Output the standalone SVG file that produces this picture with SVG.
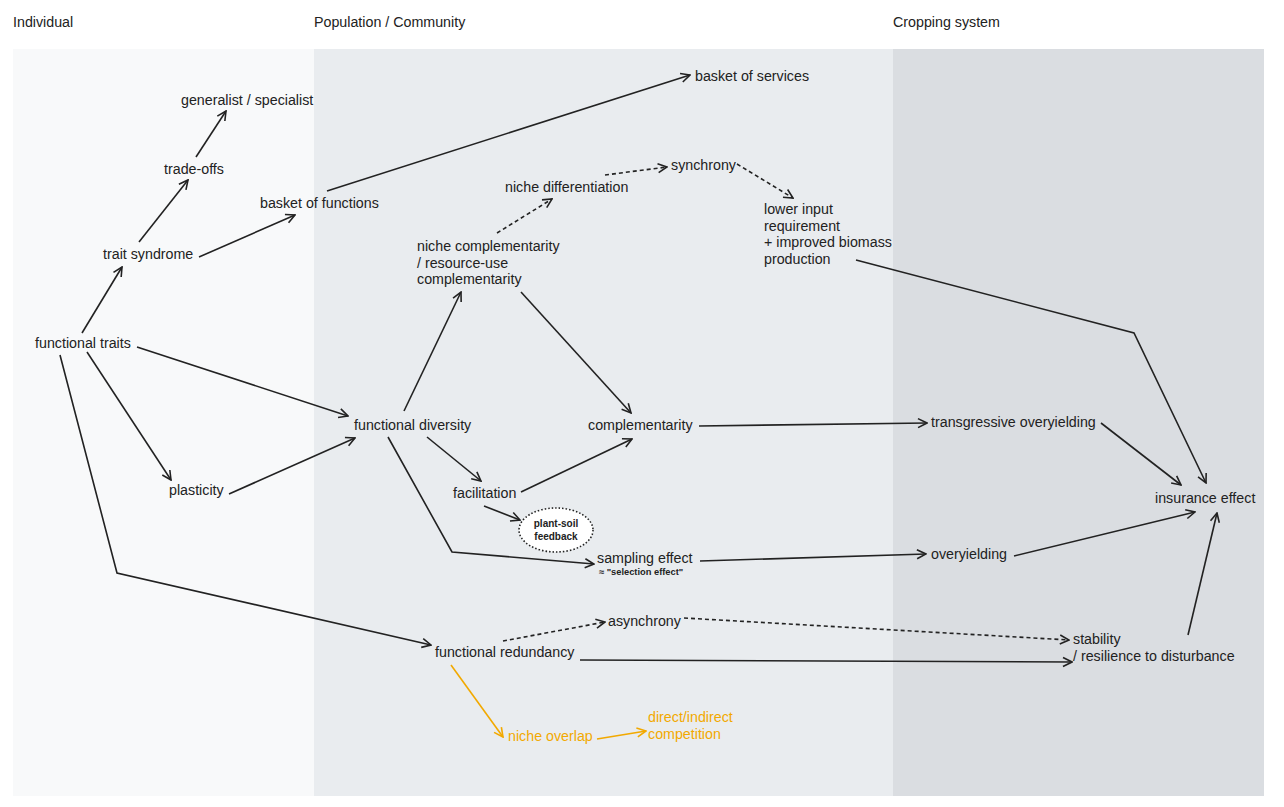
<svg xmlns="http://www.w3.org/2000/svg" width="1284" height="807" viewBox="0 0 1284 807">
<style>
text{font-family:"Liberation Sans",Arial,sans-serif;font-size:14.25px;fill:#222}
.or{fill:#f2a900}
.sm{font-size:10px;font-weight:bold}
.xs{font-size:9.3px;font-weight:bold}
.c{fill:none;stroke:#222;stroke-width:1.6}
.d{stroke-dasharray:4 3}
.o{fill:none;stroke:#f2a900;stroke-width:1.6}
</style>
<defs>
<marker id="ah" viewBox="0 0 12 12" refX="11" refY="6" markerWidth="12" markerHeight="12" markerUnits="userSpaceOnUse" orient="auto"><path d="M2,1.5 L11,6 L2,10.5" fill="none" stroke="#222" stroke-width="1.6"/></marker>
<marker id="aho" viewBox="0 0 12 12" refX="11" refY="6" markerWidth="12" markerHeight="12" markerUnits="userSpaceOnUse" orient="auto"><path d="M2,1.5 L11,6 L2,10.5" fill="none" stroke="#f2a900" stroke-width="1.6"/></marker>
</defs>
<rect width="1284" height="807" fill="#fff"/>
<g id="panels">
<rect x="13" y="49" width="301" height="747" fill="#f8f9fa"/>
<rect x="314" y="49" width="579" height="747" fill="#e9ecef"/>
<rect x="893" y="49" width="371" height="747" fill="#dadde1"/>
<text x="13" y="27">Individual</text>
<text x="314" y="27">Population / Community</text>
<text x="893" y="27">Cropping system</text>
</g>
<g id="connectors">
<path class="c" marker-end="url(#ah)" d="M82,333 L122,267"/>
<path class="c" marker-end="url(#ah)" d="M139,242 L188,180"/>
<path class="c" marker-end="url(#ah)" d="M196,157 L226,111"/>
<path class="c" marker-end="url(#ah)" d="M199,257 L295,215"/>
<path class="c" marker-end="url(#ah)" d="M327,191 L690,75"/>
<path class="c" marker-end="url(#ah)" d="M137,347 L348,416"/>
<path class="c" marker-end="url(#ah)" d="M87,352 L171,480"/>
<path class="c" marker-end="url(#ah)" d="M229,494 L355,438"/>
<path class="c" marker-end="url(#ah)" d="M60,355 L117,573 L431,645"/>
<path class="c" marker-end="url(#ah)" d="M404,411 L461,292"/>
<path class="c" marker-end="url(#ah)" d="M427,437 L481,481"/>
<path class="c" marker-end="url(#ah)" d="M388,437 L452,552 L594,564"/>
<path class="c d" marker-end="url(#ah)" d="M497,233 L552,199"/>
<path class="c d" marker-end="url(#ah)" d="M605,175 L667,167"/>
<path class="c d" marker-end="url(#ah)" d="M737,164 L793,198"/>
<path class="c" marker-end="url(#ah)" d="M521,292 L631,413"/>
<path class="c" marker-end="url(#ah)" d="M521,492 L632,439"/>
<path class="c" marker-end="url(#ah)" d="M484,506 L520,520"/>
<path class="c" marker-end="url(#ah)" d="M699,426 L927,423"/>
<path class="c" marker-end="url(#ah)" d="M700,561 L926,554"/>
<path class="c" marker-end="url(#ah)" d="M856,260 L1134,333 L1206,483"/>
<path class="c" marker-end="url(#ah)" d="M1101,423 L1181,485"/>
<path class="c" marker-end="url(#ah)" d="M1014,556 L1195,512"/>
<path class="c" marker-end="url(#ah)" d="M1188,635 L1217,513"/>
<path class="c d" marker-end="url(#ah)" d="M503,641 L605,622"/>
<path class="c d" marker-end="url(#ah)" d="M684,618 L1069,640"/>
<path class="c" marker-end="url(#ah)" d="M580,660 L1072,662"/>
<path class="o" marker-end="url(#aho)" d="M451,665 L503,737"/>
<path class="o" marker-end="url(#aho)" d="M597,739 L646,731"/>
</g>
<g id="n-generalist"><text x="181" y="105">generalist / specialist</text></g>
<g id="n-tradeoffs"><text x="164" y="174">trade-offs</text></g>
<g id="n-basket-functions"><text x="260" y="208">basket of functions</text></g>
<g id="n-trait-syndrome"><text x="103" y="259">trait syndrome</text></g>
<g id="n-functional-traits"><text x="35" y="348">functional traits</text></g>
<g id="n-plasticity"><text x="169" y="495">plasticity</text></g>
<g id="n-functional-diversity"><text x="354" y="430">functional diversity</text></g>
<g id="n-basket-services"><text x="695" y="81">basket of services</text></g>
<g id="n-niche-diff"><text x="505" y="192">niche differentiation</text></g>
<g id="n-synchrony"><text x="671" y="170">synchrony</text></g>
<g id="n-lower-input"><text x="764" y="214">lower input</text><text x="764" y="231">requirement</text><text x="764" y="247">+ improved biomass</text><text x="764" y="264">production</text></g>
<g id="n-niche-compl"><text x="417" y="251">niche complementarity</text><text x="417" y="268">/ resource-use</text><text x="417" y="284">complementarity</text></g>
<g id="n-complementarity"><text x="588" y="430">complementarity</text></g>
<g id="n-facilitation"><text x="453" y="498">facilitation</text></g>
<g id="n-plant-soil"><ellipse cx="556" cy="530" rx="37" ry="22" fill="#fff" stroke="#222" stroke-width="1.6" stroke-dasharray="1.5 2"/><text class="sm" x="556" y="527" text-anchor="middle">plant-soil</text><text class="sm" x="556" y="540" text-anchor="middle">feedback</text></g>
<g id="n-sampling"><text x="597" y="563">sampling effect</text><text class="xs" x="599" y="575">≈ "selection effect"</text></g>
<g id="n-transgressive"><text x="931" y="427">transgressive overyielding</text></g>
<g id="n-overyielding"><text x="931" y="559">overyielding</text></g>
<g id="n-insurance"><text x="1155" y="503">insurance effect</text></g>
<g id="n-asynchrony"><text x="608" y="626">asynchrony</text></g>
<g id="n-redundancy"><text x="435" y="657">functional redundancy</text></g>
<g id="n-stability"><text x="1073" y="644">stability</text><text x="1073" y="661">/ resilience to disturbance</text></g>
<g id="n-niche-overlap"><text class="or" x="508" y="741">niche overlap</text></g>
<g id="n-competition"><text class="or" x="648" y="722">direct/indirect</text><text class="or" x="648" y="739">competition</text></g>
</svg>
